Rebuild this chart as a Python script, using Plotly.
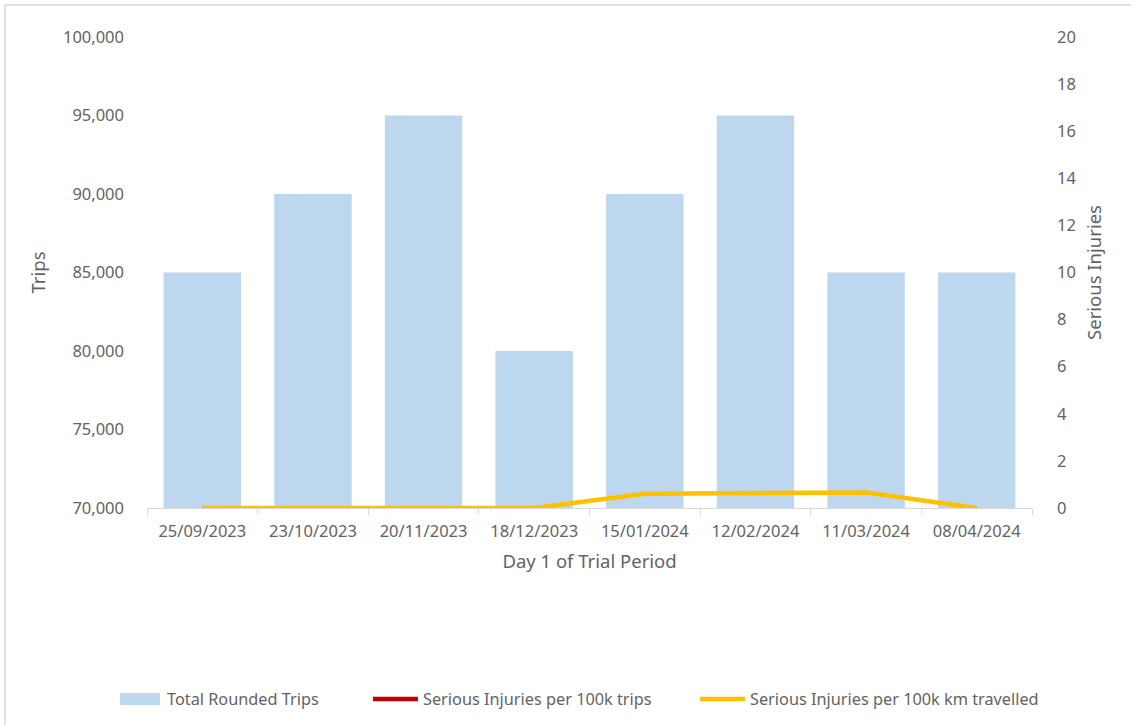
import plotly.graph_objects as go

categories = ["25/09/2023", "23/10/2023", "20/11/2023", "18/12/2023",
              "15/01/2024", "12/02/2024", "11/03/2024", "08/04/2024"]
total_trips = [85000, 90000, 95000, 80000, 90000, 95000, 85000, 85000]
inj_per_100k_trips = [0, 0, 0, 0, 0.6, 0.62, 0.66, 0]
inj_per_100k_km = [0, 0, 0, 0, 0.6, 0.62, 0.66, 0]
series_names = ["Total Rounded Trips", "Serious Injuries per 100k trips",
                "Serious Injuries per 100k km travelled"]

FONT = "Noto Sans"
GREY = "#636363"
BAR_COLOR = "#bdd7ee"
RED = "#c00000"
YELLOW = "#ffc000"

# plot area in pixels
L, R, T, B = 147, 1032, 37, 508
W, H = R - L, B - T


def px(x):
    return (x - L) / W


def py(y):
    return (B - y) / H


fig = go.Figure()
fig.add_trace(go.Bar(x=categories, y=total_trips, name=series_names[0],
                     marker=dict(color=BAR_COLOR, line=dict(width=0)), yaxis="y"))
fig.add_trace(go.Scatter(x=categories, y=inj_per_100k_trips, name=series_names[1],
                         mode="lines", line=dict(color=RED, width=2.5), yaxis="y2"))
fig.add_trace(go.Scatter(x=categories, y=inj_per_100k_km, name=series_names[2],
                         mode="lines", line=dict(color=YELLOW, width=4.5), yaxis="y2"))

# manual legend (one row, wide swatches as in the original)
LEG_Y = 699
legend_items = [(series_names[0], BAR_COLOR, "rect", 120, 160, 165),
                (series_names[1], RED, "line", 373, 418, 421),
                (series_names[2], YELLOW, "line", 700, 745, 748)]
shapes = [dict(type="rect", xref="paper", yref="paper",
               x0=px(5), x1=px(1140), y0=py(730), y1=py(5),
               line=dict(color="#d9d9d9", width=1.5), fillcolor="rgba(0,0,0,0)", layer="below")]
annotations = []
for name, color, kind, x0, x1, tx in legend_items:
    if kind == "rect":
        shapes.append(dict(type="rect", xref="paper", yref="paper",
                           x0=px(x0), x1=px(x1), y0=py(LEG_Y + 6), y1=py(LEG_Y - 6),
                           line=dict(width=0), fillcolor=color))
    else:
        shapes.append(dict(type="line", xref="paper", yref="paper",
                           x0=px(x0), x1=px(x1), y0=py(LEG_Y), y1=py(LEG_Y),
                           line=dict(color=color, width=4.5)))
    annotations.append(dict(text=name, xref="paper", yref="paper", x=px(tx), y=py(LEG_Y),
                            xanchor="left", yanchor="middle", showarrow=False,
                            font=dict(size=16.3, color=GREY, family=FONT)))

fig.update_layout(
    width=1131, height=725,
    margin=dict(l=L, r=1131 - R, t=T, b=725 - B),
    paper_bgcolor="white", plot_bgcolor="white",
    font=dict(family=FONT, size=16.5, color=GREY),
    bargap=0.3,
    showlegend=False,
    xaxis=dict(
        type="category", showgrid=False, showline=True, linecolor="#d9d9d9", linewidth=1,
        ticks="outside", tickson="boundaries", ticklen=6, tickcolor="#d9d9d9",
        ticklabelstandoff=8,
        tickfont=dict(size=16.5, color=GREY),
        title=dict(text="Day 1 of Trial Period", font=dict(size=18.5, color=GREY), standoff=14),
    ),
    yaxis=dict(
        range=[70000, 100000], dtick=5000, tickformat=",", showgrid=False, zeroline=False,
        showline=False, ticklabelstandoff=22, tickfont=dict(size=16.5, color=GREY),
        title=dict(text="Trips", font=dict(size=18.5, color=GREY), standoff=12),
    ),
    yaxis2=dict(
        range=[0, 20], dtick=2, overlaying="y", side="right", showgrid=False,
        zeroline=False, showline=False, ticklabelstandoff=24,
        tickfont=dict(size=16.5, color=GREY),
        title=dict(text="Serious Injuries", font=dict(size=18.5, color=GREY), standoff=12),
    ),
    shapes=shapes,
    annotations=annotations,
)

fig.write_html("out.html")
